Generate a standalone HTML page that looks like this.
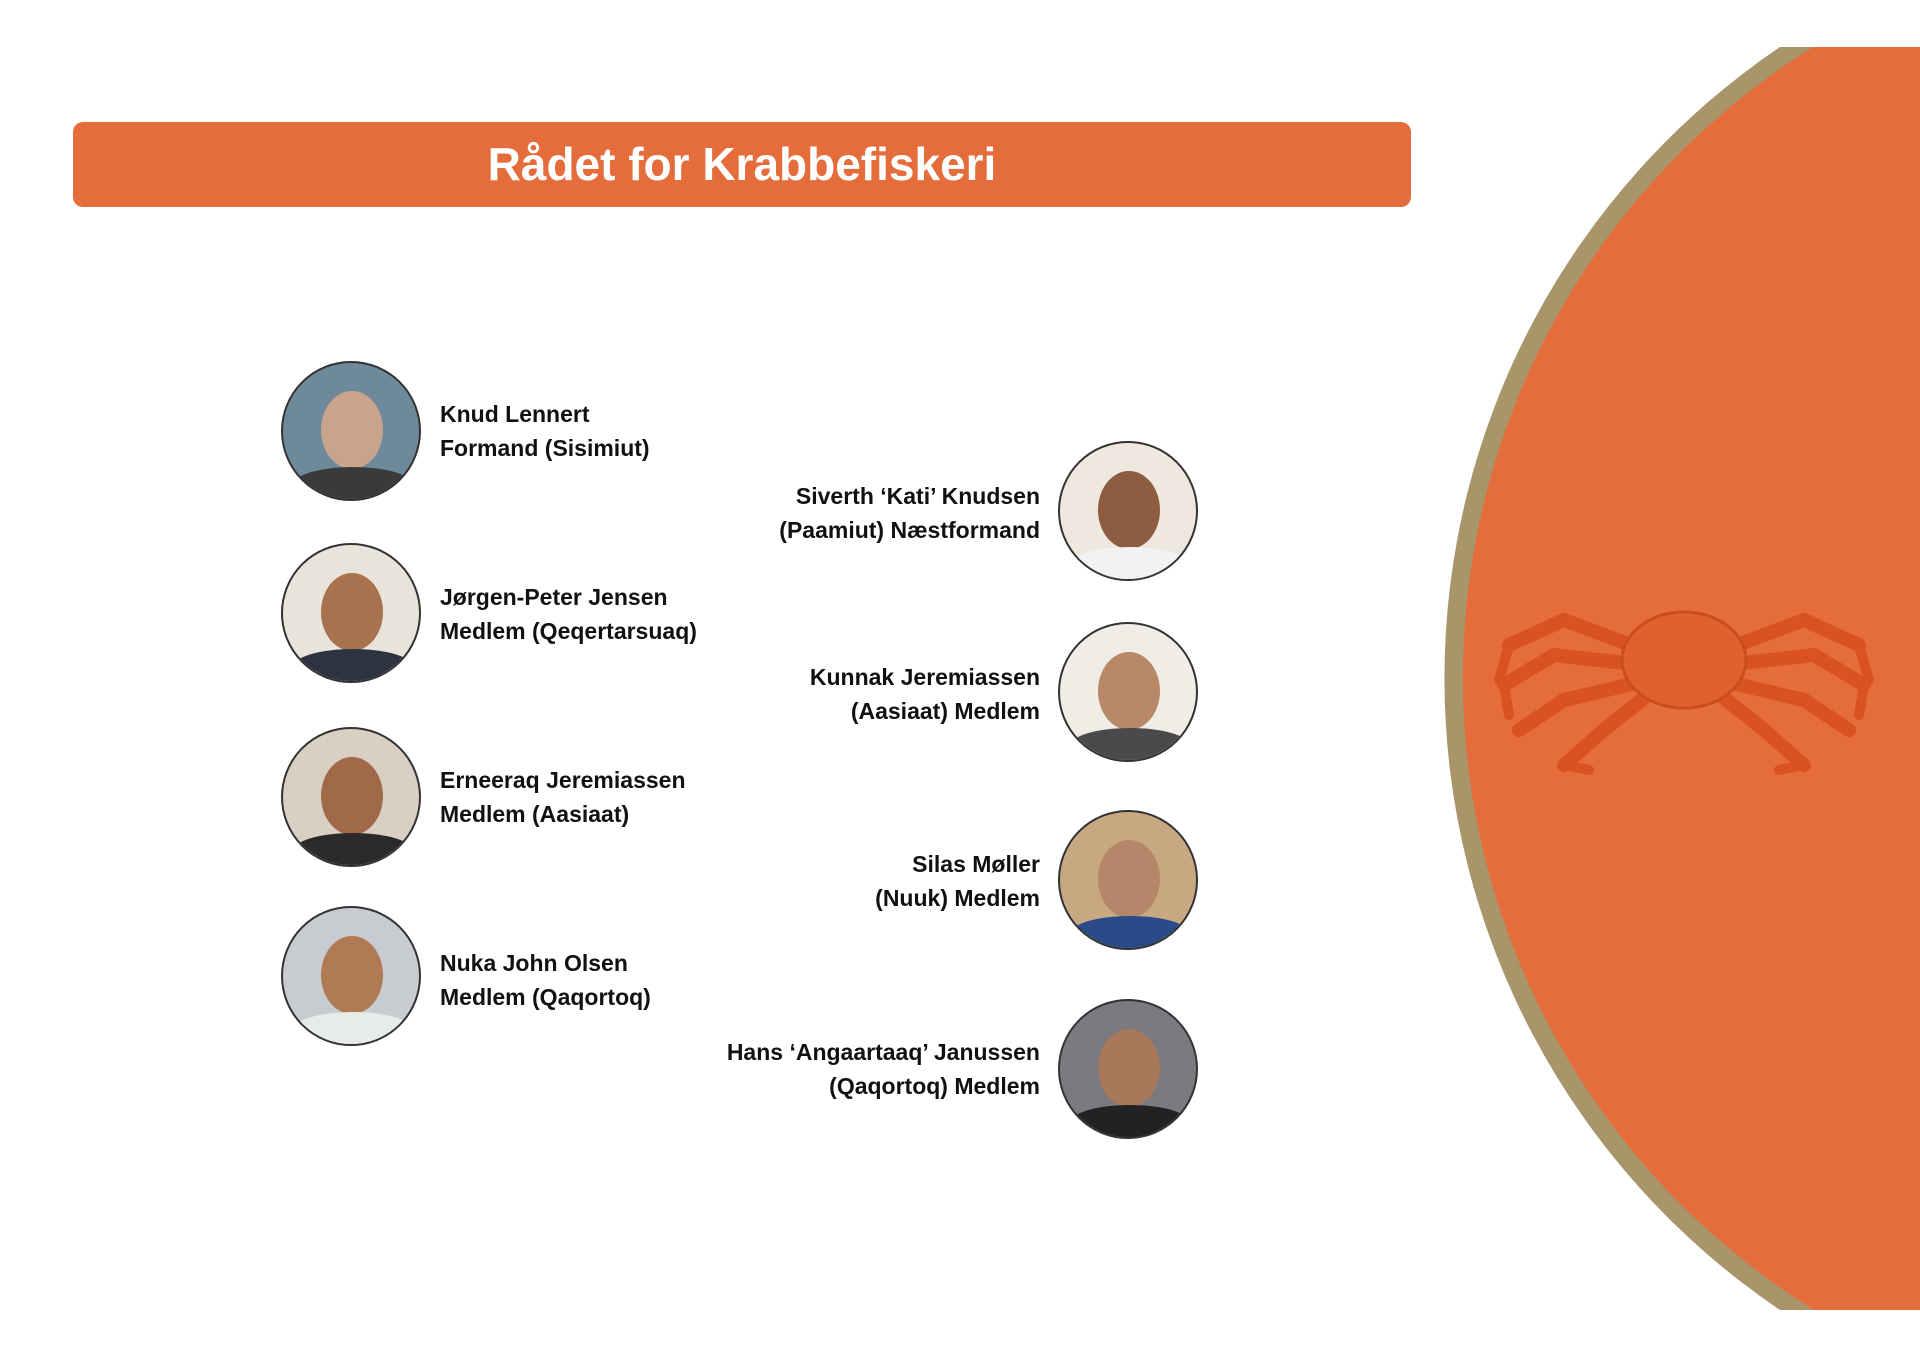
<!DOCTYPE html>
<html><head><meta charset="utf-8"><style>
html,body{margin:0;padding:0;background:#fff;overflow:hidden;}
body{width:1920px;height:1358px;position:relative;overflow:hidden;font-family:"Liberation Sans",sans-serif;}
.banner{position:absolute;left:73px;top:122px;width:1338px;height:85px;background:#e56d3b;border-radius:10px;color:#fff;font-weight:bold;font-size:46px;text-align:center;line-height:85px;}
.ph{position:absolute;width:140px;height:140px;border-radius:50%;border:2px solid #333;overflow:hidden;box-sizing:border-box;}
.ph .face{position:absolute;left:38px;top:28px;width:62px;height:78px;border-radius:50%;background:#b07a5a;}
.ph .body{position:absolute;left:10px;top:104px;width:120px;height:36px;border-radius:50% 50% 0 0;background:#2f3a4a;}
.t{position:absolute;font-weight:bold;font-size:23px;line-height:34px;color:#111;white-space:nowrap;}
.l{left:440px;}
.r{right:880px;text-align:right;}
</style></head><body>
<svg width="1920" height="1358" style="position:absolute;left:0;top:0;overflow:hidden">
<path d="M1780 47 A762 762 0 0 0 1780 1310 L1920 1310 L1920 47 Z" fill="#a8956a"/>
<path d="M1813 47 A744 744 0 0 0 1814 1310 L1920 1310 L1920 47 Z" fill="#e56d3b"/>
<g transform="translate(1684,660)" stroke="#d9521f" stroke-linecap="round" fill="none">
<g stroke-width="14">
<polyline points="-40,-10 -120,-40 -175,-15"/><polyline points="-40,5 -130,-5 -180,25"/>
<polyline points="-35,20 -120,40 -165,70"/><polyline points="-30,30 -80,70 -120,105"/>
<polyline points="40,-10 120,-40 175,-15"/><polyline points="40,5 130,-5 180,25"/>
<polyline points="35,20 120,40 165,70"/><polyline points="30,30 80,70 120,105"/>
</g>
<g stroke-width="10">
<polyline points="-175,-15 -185,20"/><polyline points="-180,25 -175,55"/>
<polyline points="175,-15 185,20"/><polyline points="180,25 175,55"/>
<polyline points="-120,105 -95,110"/><polyline points="120,105 95,110"/>
</g>
<ellipse cx="0" cy="0" rx="62" ry="48" fill="#e0612c" stroke="#c94e1e" stroke-width="3"/>
</g>
</svg>
<div class="banner">Rådet for Krabbefiskeri</div>

<div class="ph" style="left:281px;top:361px;background:#6e8a9a"><div class="face" style="background:#c9a48c"></div><div class="body" style="background:#3a3a3a"></div></div>
<div class="ph" style="left:281px;top:543px;background:#e8e4dc"><div class="face" style="background:#a8724e"></div><div class="body" style="background:#2d3340"></div></div>
<div class="ph" style="left:281px;top:727px;background:#d9cfc2"><div class="face" style="background:#a06a48"></div><div class="body" style="background:#2a2a2a"></div></div>
<div class="ph" style="left:281px;top:906px;background:#c8ccd0"><div class="face" style="background:#b07a55"></div><div class="body" style="background:#e8ece8"></div></div>

<div class="ph" style="left:1058px;top:441px;background:#eee8de"><div class="face" style="background:#8e5c40"></div><div class="body" style="background:#f2f2f2"></div></div>
<div class="ph" style="left:1058px;top:622px;background:#f0ece6"><div class="face" style="background:#b88868"></div><div class="body" style="background:#4a4a4a"></div></div>
<div class="ph" style="left:1058px;top:810px;background:#c8a880"><div class="face" style="background:#b5866a"></div><div class="body" style="background:#2a4a8a"></div></div>
<div class="ph" style="left:1058px;top:999px;background:#7a7a80"><div class="face" style="background:#a8785a"></div><div class="body" style="background:#222"></div></div>

<div class="t l" style="top:397px">Knud Lennert<br>Formand (Sisimiut)</div>
<div class="t l" style="top:580px">Jørgen-Peter Jensen<br>Medlem (Qeqertarsuaq)</div>
<div class="t l" style="top:763px">Erneeraq Jeremiassen<br>Medlem (Aasiaat)</div>
<div class="t l" style="top:946px">Nuka John Olsen<br>Medlem (Qaqortoq)</div>

<div class="t r" style="top:479px">Siverth ‘Kati’ Knudsen<br>(Paamiut) Næstformand</div>
<div class="t r" style="top:660px">Kunnak Jeremiassen<br>(Aasiaat) Medlem</div>
<div class="t r" style="top:847px">Silas Møller<br>(Nuuk) Medlem</div>
<div class="t r" style="top:1035px">Hans ‘Angaartaaq’ Janussen<br>(Qaqortoq) Medlem</div>
</body></html>
